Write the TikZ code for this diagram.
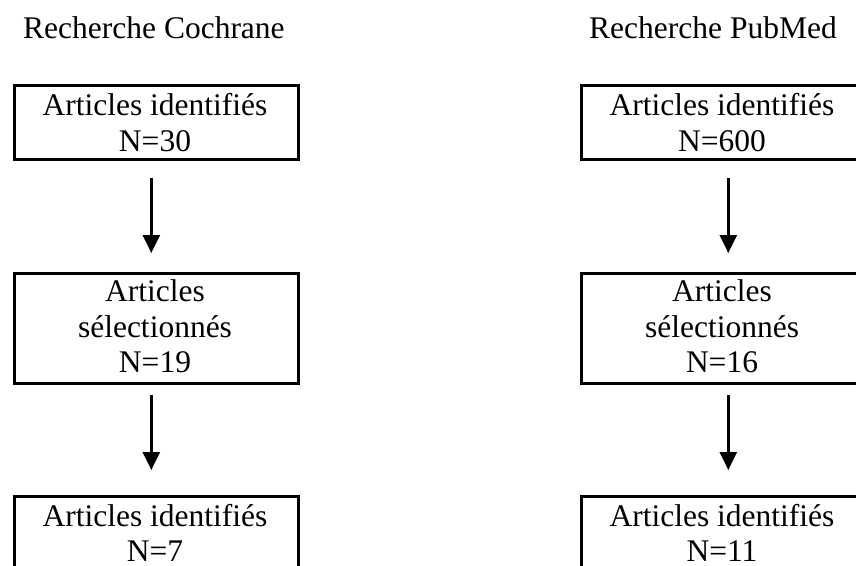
\documentclass[tikz,border=0pt]{standalone}
\usepackage{fontspec}
\setmainfont{Liberation Serif}
\usetikzlibrary{arrows.meta}
\begin{document}
\begin{tikzpicture}[x=1pt,y=-1pt,
  box/.style={draw, line width=2.6pt, rectangle, anchor=north west, inner sep=0pt, minimum width=284pt},
  txt/.style={anchor=base, inner sep=0pt, font=\fontsize{31.5}{36}\selectfont},
  title/.style={anchor=base west, inner sep=0pt, font=\fontsize{31.5}{36}\selectfont},
  arr/.style={line width=2.4pt, -{Triangle[width=17pt,length=18pt]}}]
\useasboundingbox (0,0) rectangle (856,565);
\clip (0,0) rectangle (856,565);
\fill[white] (0,0) rectangle (856,565);

% titles
\node[title] (tc) at (23,38) {Recherche Cochrane};
\node[title] (tp) at (589,38) {Recherche PubMed};

% left column (Cochrane)
\node[box, minimum height=74pt] (c1) at (13,84) {};
\node[txt] (c1a) at (155,115) {Articles identifiés};
\node[txt] (c1b) at (155,151) {N=30};

\node[box, minimum height=110pt] (c2) at (13,272) {};
\node[txt] (c2a) at (155,301) {Articles};
\node[txt] (c2b) at (155,337) {sélectionnés};
\node[txt] (c2c) at (155,372) {N=19};

\node[box, minimum height=90pt] (c3) at (13,495) {};
\node[txt] (c3a) at (155,526) {Articles identifiés};
\node[txt] (c3b) at (155,561) {N=7};

% right column (PubMed)
\node[box, minimum height=74pt] (p1) at (580,84) {};
\node[txt] (p1a) at (722,115) {Articles identifiés};
\node[txt] (p1b) at (722,151) {N=600};

\node[box, minimum height=110pt] (p2) at (580,272) {};
\node[txt] (p2a) at (722,301) {Articles};
\node[txt] (p2b) at (722,337) {sélectionnés};
\node[txt] (p2c) at (722,372) {N=16};

\node[box, minimum height=90pt] (p3) at (580,495) {};
\node[txt] (p3a) at (722,526) {Articles identifiés};
\node[txt] (p3b) at (722,561) {N=11};

% arrows
\draw[arr, shorten <=17pt, shorten >=19pt] ([xshift=-5pt]c1.south) -- ([xshift=-5pt]c2.north);
\draw[arr, shorten <=10pt, shorten >=25pt] ([xshift=-5pt]c2.south) -- ([xshift=-5pt]c3.north);
\draw[arr, shorten <=17pt, shorten >=19pt] ([xshift=5pt]p1.south) -- ([xshift=5pt]p2.north);
\draw[arr, shorten <=10pt, shorten >=25pt] ([xshift=5pt]p2.south) -- ([xshift=5pt]p3.north);
\end{tikzpicture}
\end{document}
